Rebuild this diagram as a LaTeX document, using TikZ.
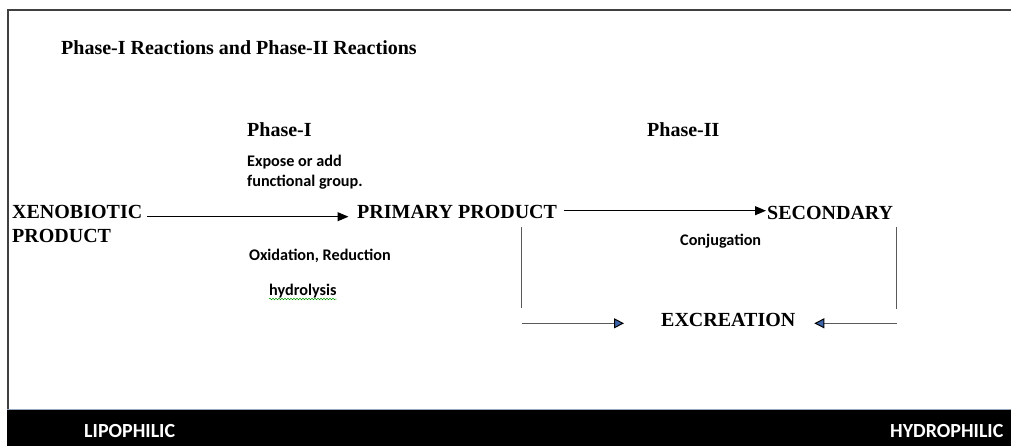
\documentclass[tikz,border=0pt]{standalone}
\usepackage{fontspec}
\setmainfont{Liberation Serif}
\newfontfamily\calib{Carlito}
\usetikzlibrary{arrows.meta,decorations.pathmorphing}
\definecolor{tipblue}{RGB}{60,100,170}
\definecolor{barline}{RGB}{150,165,190}
\begin{document}
\begin{tikzpicture}[x=1pt,y=-1pt,
  serifbig/.style={font=\fontsize{20}{22}\selectfont\bfseries, inner sep=0pt, anchor=base west},
  sanssmall/.style={font=\calib\fontsize{16.2}{20}\selectfont\bfseries, inner sep=0pt, anchor=base west},
  barlabel/.style={font=\calib\fontsize{20}{22}\selectfont\bfseries, text=white, inner sep=0pt, anchor=base west},
  mainarrow/.style={draw=black, line width=1pt, -{Triangle[length=11pt,width=9pt]}},
  greyline/.style={draw=black!65, line width=1.3pt},
  bluearrow/.style={draw=black!65, line width=1.3pt, -{Triangle[length=10pt,width=10pt,fill=tipblue,color=black,line width=1pt]}}
]
\useasboundingbox (0,0) rectangle (1011,446);
\fill[white] (0,0) rectangle (1011,446);
% frame
\draw[draw=black!75, line width=2.4pt] (8,409) -- (8,10) -- (1012,10);
% bottom bar
\fill[black] (7,409) rectangle (1011,446);
\draw[draw=barline, line width=0.8pt] (7,409) -- (1011,409);

% texts
\node[serifbig] (title) at (61,55) {Phase-I Reactions and Phase-II Reactions};
\node[serifbig] (ph1) at (247,137) {Phase-I};
\node[serifbig] (ph2) at (647,137) {Phase-II};
\node[sanssmall, align=left] (expose) at (247,187) {Expose or add\\functional group.};
\node[serifbig, align=left] (xeno) at (12,243) {XENOBIOTIC\\[2pt]PRODUCT};
\node[serifbig] (prim) at (357,219) {PRIMARY PRODUCT};
\node[serifbig] (sec) at (767,220) {SECONDARY};
\node[serifbig] (exc) at (661,326) {EXCREATION};
\node[sanssmall] (oxid) at (249,260) {Oxidation, Reduction};
\node[sanssmall] (hydro) at (269,295) {hydrolysis};
\node[sanssmall] (conj) at (680,245) {Conjugation};
\node[barlabel] (lipo) at (84,437) {LIPOPHILIC};
\node[barlabel] (hydrop) at (890,437) {HYDROPHILIC};

% spell-check underline
\draw[green!60!black, line width=0.5pt, decorate, decoration={snake, amplitude=0.8pt, segment length=3pt}]
  ([yshift=-4pt]hydro.base west) -- ([yshift=-4pt]hydro.base east);

% connectors
\coordinate (a1s) at (147,216.7);
\coordinate (a1e) at (348.5,216.7);
\draw[mainarrow] (a1s) -- (a1e);
\coordinate (a2s) at (564,210.7);
\coordinate (a2e) at (766,210.7);
\draw[mainarrow] (a2s) -- (a2e);

\coordinate (lv1) at (521.7,227);
\coordinate (lv2) at (521.7,308);
\draw[greyline] (lv1) -- (lv2);
\coordinate (lb1) at (521.7,323.3);
\coordinate (lb2) at (624,323.3);
\draw[bluearrow] (lb1) -- (lb2);

\coordinate (rv1) at (896.7,227);
\coordinate (rv2) at (896.7,309);
\draw[greyline] (rv1) -- (rv2);
\coordinate (rb1) at (896.7,323.3);
\coordinate (rb2) at (814.3,323.3);
\draw[bluearrow] (rb1) -- (rb2);
\end{tikzpicture}
\end{document}
